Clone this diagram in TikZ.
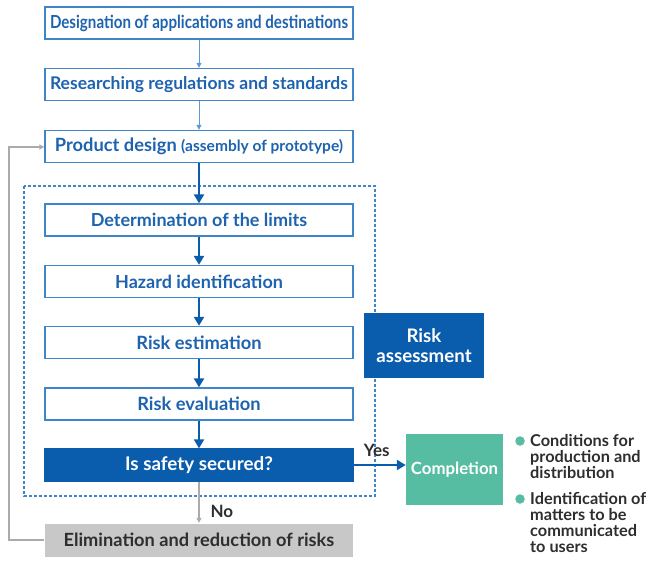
\documentclass[tikz,border=0pt]{standalone}
\usepackage{fontspec}
\setmainfont{Lato}
\newfontfamily\condfont{Lato}[FakeStretch=0.84]
\usetikzlibrary{arrows.meta,positioning}
\definecolor{dkblue}{HTML}{0A5CAD}
\definecolor{txtblue}{HTML}{1E63AF}
\definecolor{bdblue}{HTML}{3E86C9}
\definecolor{ltblue}{HTML}{5B9BD5}
\definecolor{lgray}{HTML}{ABABAB}
\definecolor{boxgray}{HTML}{C8C8C8}
\definecolor{dgray}{HTML}{2E2E2E}
\definecolor{teal}{HTML}{56BDA3}
\begin{document}
\begin{tikzpicture}[x=1pt,y=-1pt,
  stepbox/.style={draw=bdblue,line width=1.4pt,fill=white,minimum width=308pt,minimum height=32pt,inner sep=0pt,text=txtblue,font=\bfseries\fontsize{18}{20}\selectfont},
  thinarr/.style={draw=ltblue,line width=1pt,-{Triangle[length=5pt,width=5pt]}},
  thickarr/.style={draw=dkblue,line width=2.4pt,-{Triangle[length=9pt,width=10pt]}},
  grayarr/.style={draw=lgray,line width=1.2pt,-{Triangle[length=5pt,width=5pt]}},
  lbl/.style={text=dgray,font=\bfseries\fontsize{17}{18}\selectfont,inner sep=0pt},
  bullettxt/.style={anchor=north west,align=left,inner sep=0pt,text=dgray,font=\bfseries\fontsize{16.3}{16}\selectfont},
  dot/.style={circle,fill=teal,draw=none,minimum size=9.5pt,inner sep=0pt}
]
\useasboundingbox (0,0) rectangle (650,560);
% dashed frame
\draw[bdblue,line width=1.2pt,dash pattern=on 3pt off 2pt] (24,186) rectangle (375,496);
\node[stepbox,font=\condfont\bfseries\fontsize{18}{20}\selectfont] (b1) at (199,23) {Designation of applications and destinations};
\node[stepbox,font=\bfseries\fontsize{17.5}{20}\selectfont] (b2) at (199,84.5) {Researching regulations and standards};
\node[stepbox,font=\bfseries\fontsize{18.3}{20}\selectfont] (b3) at (199,146.5) {Product design {\fontsize{15.5}{16}\selectfont (assembly of prototype)}};
\node[stepbox] (b4) at (199,220) {Determination of the limits};
\node[stepbox] (b5) at (199,281.5) {Hazard identification};
\node[stepbox,font=\bfseries\fontsize{18.3}{20}\selectfont] (b6) at (199,342.5) {Risk estimation};
\node[stepbox,font=\bfseries\fontsize{18.3}{20}\selectfont] (b7) at (199,404) {Risk evaluation};
\node[stepbox,draw=dkblue,fill=dkblue,text=white,font=\bfseries\fontsize{18.8}{20}\selectfont] (b8) at (199,465) {Is safety secured?};
\node[stepbox,draw=none,fill=boxgray,text=dgray,minimum height=33pt,font=\bfseries\fontsize{18.2}{20}\selectfont] (b9) at (199,540) {Elimination and reduction of risks};
\node[fill=dkblue,minimum width=120pt,minimum height=65pt,inner sep=0pt,text=white,align=center,font=\bfseries\fontsize{18.7}{20}\selectfont] (ra) at (424,345.5) {Risk\\assessment};
\node[fill=teal,minimum width=97pt,minimum height=71pt,inner sep=0pt,text=white,font=\bfseries\fontsize{16.8}{18}\selectfont] (comp) at (454.5,469.5) {Completion};
% arrows
\draw[thinarr] (b1) -- (b2);
\draw[thinarr] (b2) -- (b3);
\draw[thickarr] (b3) -- (b4);
\draw[thickarr] (b4) -- (b5);
\draw[thickarr] (b5) -- (b6);
\draw[thickarr] (b6) -- (b7);
\draw[thickarr] (b7) -- (b8);
\draw[grayarr] (b8) -- node[lbl,pos=0.72,anchor=west,xshift=11pt] (no) {No} (b9);
\draw[draw=dkblue,line width=2pt,-{Triangle[length=9pt,width=10pt]}] (b8.east) -- node[lbl,above=7pt,xshift=-3pt] (yes) {Yes} (comp.west |- b8.east);
\coordinate (fbl) at (9,540);
\coordinate (fbt) at (9,147);
\draw[grayarr] (b9.west) -- (fbl) -- (fbt) -- (b3.west |- fbt);
% bullets
\node[dot] (d1) at (520,441) {};
\node[bullettxt] (t1) at (530,434.5) {Conditions for\\production and\\distribution};
\node[dot] (d2) at (520,499) {};
\node[bullettxt] (t2) at (530,492.5) {Identification of\\matters to be\\communicated\\to users};
\end{tikzpicture}
\end{document}
